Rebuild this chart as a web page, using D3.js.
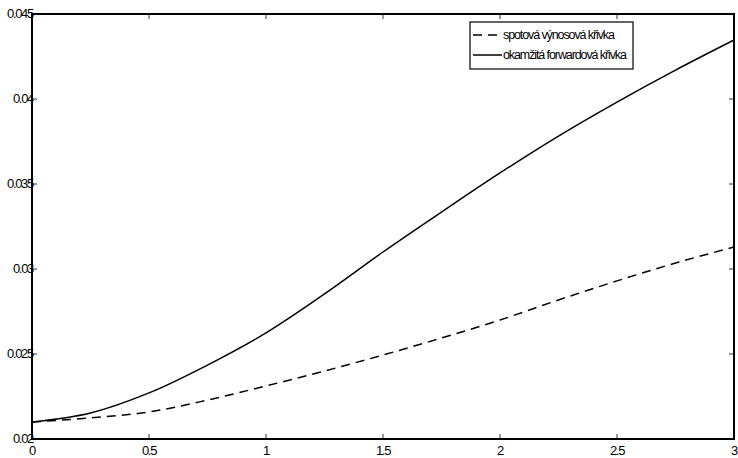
<!DOCTYPE html>
<html lang="cs">
<meta charset="utf-8">
<style>
  body { margin: 0; background: #fff; }
  text { font-family: "Liberation Sans", Arial, sans-serif; font-size: 13px; letter-spacing: -1.3px; fill: #000; }
  .leg text { font-size: 12.5px; letter-spacing: -1.1px; }
</style>
<body>
<svg width="738" height="458"></svg>
<script src="https://d3js.org/d3.v7.min.js"></script>
<script>
// splatnost (roky)
const maturities = [0, 0.25, 0.5, 0.75, 1, 1.25, 1.5, 1.75, 2, 2.25, 2.5, 2.75, 3]
// spotová výnosová křivka
const spotRates = [0.0210, 0.02124, 0.02159, 0.02229, 0.02312, 0.0240, 0.02494, 0.02594, 0.02700, 0.02818, 0.02930, 0.03035, 0.03129]
// okamžitá forwardová křivka
const forwardRates = [0.0210, 0.02153, 0.02271, 0.02435, 0.02624, 0.02853, 0.0310, 0.03335, 0.03565, 0.03782, 0.03982, 0.0417, 0.04347]

const xTicks = [0, 0.5, 1, 1.5, 2, 2.5, 3]
const xTickLabels = ['0', '0.5', '1', '1.5', '2', '2.5', '3']
const yTicks = [0.02, 0.025, 0.03, 0.035, 0.04, 0.045]
const yTickLabels = ['0.02', '0.025', '0.03', '0.035', '0.04', '0.045']
const seriesNames = ['spotová výnosová křivka', 'okamžitá forwardová křivka']

const mLeft = 32, mRight = 734, mTop = 14, mBottom = 439

const x = d3.scaleLinear().domain([0, 3]).range([mLeft, mRight])
const y = d3.scaleLinear().domain([0.02, 0.045]).range([mBottom, mTop])

const svg = d3.select('svg')

// ticks (dovnitř, jako v MATLABu)
const tickLen = 5
const g = svg.append('g')
g.selectAll('.xt').data(xTicks).enter().append('line')
  .attr('x1', d => x(d)).attr('x2', d => x(d))
  .attr('y1', mBottom).attr('y2', mBottom - tickLen)
  .attr('stroke', '#333')
g.selectAll('.xtt').data(xTicks).enter().append('line')
  .attr('x1', d => x(d)).attr('x2', d => x(d))
  .attr('y1', mTop).attr('y2', mTop + tickLen)
  .attr('stroke', '#333')
g.selectAll('.yt').data(yTicks).enter().append('line')
  .attr('y1', d => y(d)).attr('y2', d => y(d))
  .attr('x1', mLeft).attr('x2', mLeft + tickLen)
  .attr('stroke', '#333')
g.selectAll('.ytr').data(yTicks).enter().append('line')
  .attr('y1', d => y(d)).attr('y2', d => y(d))
  .attr('x1', mRight).attr('x2', mRight - tickLen)
  .attr('stroke', '#333')

// popisky
g.selectAll('.xl').data(xTicks).enter().append('text')
  .attr('x', d => x(d)).attr('y', mBottom + 16)
  .attr('text-anchor', 'middle')
  .text((d, i) => xTickLabels[i])
g.selectAll('.yl').data(yTicks).enter().append('text')
  .attr('x', mLeft + 1).attr('y', d => y(d) + 4)
  .attr('text-anchor', 'end')
  .text((d, i) => yTickLabels[i])

// křivky
const line = vals => d3.line()
  .x((d, i) => x(maturities[i]))
  .y(d => y(d))
  .curve(d3.curveMonotoneX)(vals)

svg.append('path').attr('d', line(spotRates))
  .attr('fill', 'none').attr('stroke', '#000').attr('stroke-width', 1.5)
  .attr('stroke-dasharray', '9,6')
svg.append('path').attr('d', line(forwardRates))
  .attr('fill', 'none').attr('stroke', '#000').attr('stroke-width', 1.5)

// rámeček os
svg.append('rect')
  .attr('x', mLeft).attr('y', mTop)
  .attr('width', mRight - mLeft).attr('height', mBottom - mTop)
  .attr('fill', 'none').attr('stroke', '#000').attr('stroke-width', 2)

// legenda
const lg = svg.append('g').attr('class', 'leg').attr('transform', 'translate(470,22)')
lg.append('rect').attr('width', 163).attr('height', 47)
  .attr('fill', '#fff').attr('stroke', '#000').attr('stroke-width', 1.2)
lg.selectAll('.ll').data(seriesNames).enter().append('line')
  .attr('x1', 3).attr('x2', 32)
  .attr('y1', (d, i) => 13 + i * 20).attr('y2', (d, i) => 13 + i * 20)
  .attr('stroke', '#000').attr('stroke-width', 1.5)
  .attr('stroke-dasharray', (d, i) => i === 0 ? '9,6' : null)
lg.selectAll('.lt').data(seriesNames).enter().append('text')
  .attr('x', 33).attr('y', (d, i) => 17 + i * 20)
  .text(d => d)
</script>
</body>
</html>
